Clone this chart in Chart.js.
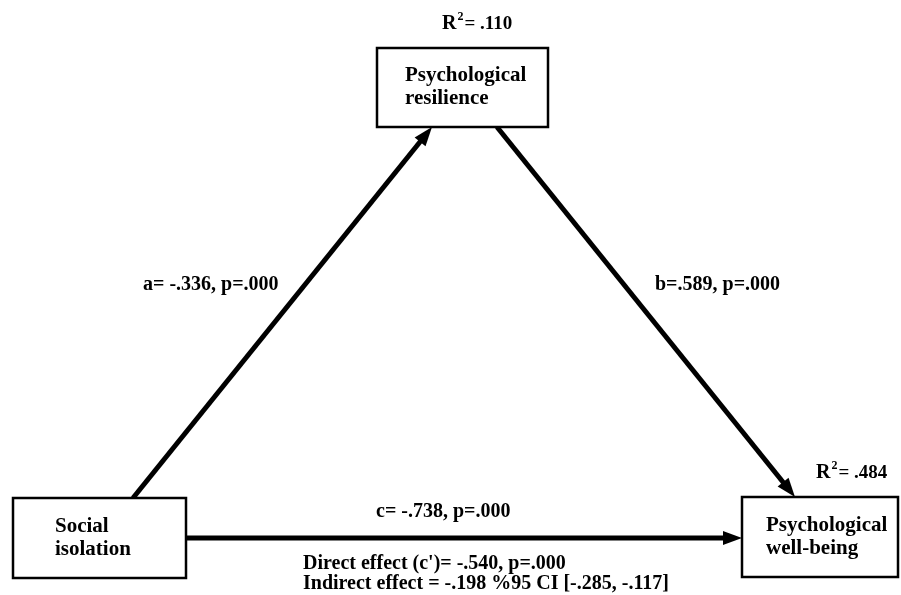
<!DOCTYPE html>
<html>
<head>
<meta charset="utf-8">
<script src="https://cdn.jsdelivr.net/npm/chart.js@4"></script>
<style>
  html, body { margin: 0; padding: 0; background: #fff; }
  #wrap { width: 901px; height: 595px; position: relative; }
</style>
</head>
<body>
<div id="wrap"><canvas id="model"></canvas></div>
<script>
// variables in the mediation model
const nodeNames = [
  ["Social", "isolation"],
  ["Psychological", "resilience"],
  ["Psychological", "well-being"],
];
const rSquared = [null, ".110", ".484"];

// paths: from, to, coefficient, p
const pathFrom = [0, 1, 0];
const pathTo = [1, 2, 2];
const pathCoef = ["a= -.336, p=.000", "b=.589, p=.000", "c= -.738, p=.000"];
const effectNotes = [
  "Direct effect (c')= -.540, p=.000",
  "Indirect effect = -.198 %95 CI [-.285, -.117]",
];

// layout (diagram units match the 901x595 picture)
const box = [
  { x: 13, y: 498, w: 173, h: 80, tx: 55 },
  { x: 377, y: 48, w: 171, h: 79, tx: 405 },
  { x: 742, y: 497, w: 156, h: 80, tx: 766 },
];
const anchors = [
  // [startX, startY, endX, endY]
  [133, 498, 432, 127],
  [497, 127, 795, 497],
  [186, 538, 742, 538],
];
const coefPos = [[143, 285], [655, 285], [376, 512]];
const r2Pos = [null, [442, 24], [816, 473]];
const notePos = [[303, 564], [303, 584]];

const FONT = "bold 20px 'Liberation Serif', 'Times New Roman', serif";
const BOX_FONT = "bold 21px 'Liberation Serif', 'Times New Roman', serif";

const diagram = {
  id: "diagram",
  afterDraw(chart) {
    const ctx = chart.ctx;
    const sx = chart.scales.x, sy = chart.scales.y;
    const X = (v) => sx.getPixelForValue(v);
    const Y = (v) => sy.getPixelForValue(v);
    ctx.save();
    ctx.fillStyle = "#000";
    ctx.strokeStyle = "#000";
    ctx.font = FONT;
    ctx.textBaseline = "middle";
    ctx.textAlign = "left";

    // arrows
    anchors.forEach((a, i) => {
      const x1 = X(a[0]), y1 = Y(a[1]), x2 = X(a[2]), y2 = Y(a[3]);
      const ang = Math.atan2(y2 - y1, x2 - x1);
      const len = 19, half = 7;
      const bx = x2 - len * Math.cos(ang), by = y2 - len * Math.sin(ang);
      ctx.lineWidth = 5;
      ctx.beginPath();
      ctx.moveTo(x1, y1);
      ctx.lineTo(bx + 2 * Math.cos(ang), by + 2 * Math.sin(ang));
      ctx.stroke();
      ctx.beginPath();
      ctx.moveTo(x2, y2);
      ctx.lineTo(bx + half * Math.sin(ang), by - half * Math.cos(ang));
      ctx.lineTo(bx - half * Math.sin(ang), by + half * Math.cos(ang));
      ctx.closePath();
      ctx.fill();
      ctx.fillText(pathCoef[i], X(coefPos[i][0]), Y(coefPos[i][1]));
    });

    // boxes
    box.forEach((b, i) => {
      ctx.lineWidth = 2.5;
      ctx.fillStyle = "#fff";
      ctx.fillRect(X(b.x), Y(b.y), X(b.x + b.w) - X(b.x), Y(b.y + b.h) - Y(b.y));
      ctx.strokeRect(X(b.x), Y(b.y), X(b.x + b.w) - X(b.x), Y(b.y + b.h) - Y(b.y));
      ctx.fillStyle = "#000";
      ctx.font = BOX_FONT;
      const cy = b.y + b.h / 2;
      ctx.fillText(nodeNames[i][0], X(b.tx), Y(cy - 11.5));
      ctx.fillText(nodeNames[i][1], X(b.tx), Y(cy + 11.5));
      if (rSquared[i]) {
        const p = r2Pos[i];
        ctx.font = "bold 20px 'Liberation Serif', serif";
        ctx.fillText("R", X(p[0]), Y(p[1]));
        const rw = ctx.measureText("R").width;
        ctx.font = "bold 12px 'Liberation Serif', serif";
        ctx.fillText("2", X(p[0]) + rw + 1, Y(p[1]) - 7);
        ctx.font = "bold 19px 'Liberation Serif', serif";
        ctx.fillText("= " + rSquared[i], X(p[0]) + rw + 8, Y(p[1]));
      }
      ctx.font = FONT;
    });

    effectNotes.forEach((t, i) => ctx.fillText(t, X(notePos[i][0]), Y(notePos[i][1])));
    ctx.restore();
  },
};

new Chart(document.getElementById("model"), {
  type: "scatter",
  data: { datasets: [{ data: [], pointRadius: 0 }] },
  options: {
    responsive: true,
    maintainAspectRatio: false,
    animation: false,
    layout: { padding: 0 },
    plugins: { legend: { display: false }, tooltip: { enabled: false } },
    scales: {
      x: { type: "linear", min: 0, max: 901, display: false },
      y: { type: "linear", min: 0, max: 595, reverse: true, display: false },
    },
  },
  plugins: [diagram],
});
</script>
</body>
</html>
